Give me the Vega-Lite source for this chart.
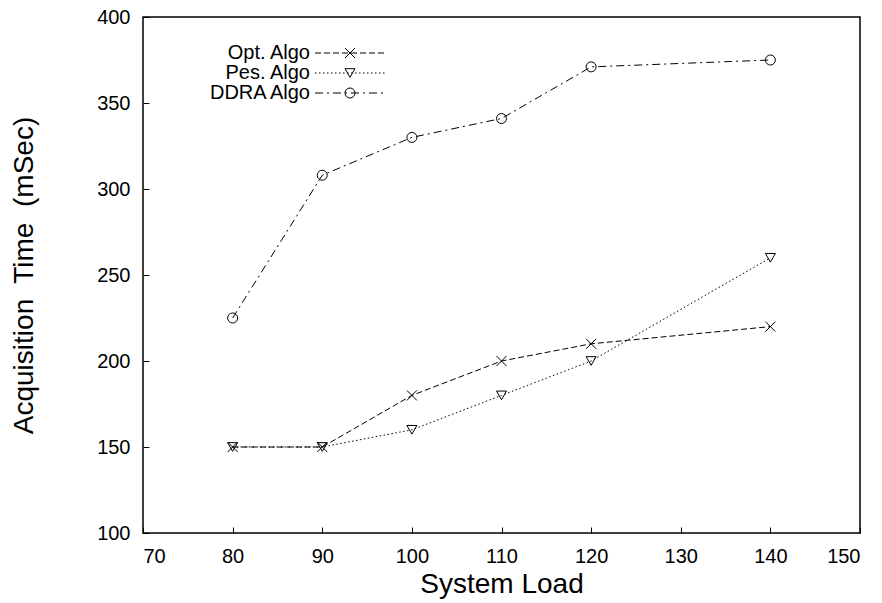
{
  "$schema": "https://vega.github.io/schema/vega-lite/v6.json",
  "width": 717,
  "height": 516,
  "autosize": {"type": "none"},
  "padding": {"left": 143, "top": 17, "right": 22, "bottom": 70},
  "background": "white",
  "config": {
    "font": "Liberation Sans",
    "view": {"stroke": "black", "strokeWidth": 1.5},
    "axis": {
      "domain": false,
      "grid": false,
      "tickColor": "black",
      "tickSize": -6,
      "tickWidth": 1,
      "labelColor": "black",
      "labelFontSize": 20,
      "labelFont": "Liberation Sans",
      "titleFont": "Liberation Sans",
      "titleFontSize": 28,
      "titleFontWeight": "normal",
      "titleColor": "black"
    },
    "legend": {
      "labelFont": "Liberation Sans",
      "labelFontSize": 20,
      "labelColor": "black"
    }
  },
  "data": {
    "values": [
      {"load": 80, "time": 150, "algo": "Opt. Algo", "marker": "cross"},
      {"load": 90, "time": 150, "algo": "Opt. Algo", "marker": "cross"},
      {"load": 100, "time": 180, "algo": "Opt. Algo", "marker": "cross"},
      {"load": 110, "time": 200, "algo": "Opt. Algo", "marker": "cross"},
      {"load": 120, "time": 210, "algo": "Opt. Algo", "marker": "cross"},
      {"load": 140, "time": 220, "algo": "Opt. Algo", "marker": "cross"},
      {"load": 80, "time": 150, "algo": "Pes. Algo", "marker": "triangle"},
      {"load": 90, "time": 150, "algo": "Pes. Algo", "marker": "triangle"},
      {"load": 100, "time": 160, "algo": "Pes. Algo", "marker": "triangle"},
      {"load": 110, "time": 180, "algo": "Pes. Algo", "marker": "triangle"},
      {"load": 120, "time": 200, "algo": "Pes. Algo", "marker": "triangle"},
      {"load": 140, "time": 260, "algo": "Pes. Algo", "marker": "triangle"},
      {"load": 80, "time": 225, "algo": "DDRA Algo", "marker": "circle"},
      {"load": 90, "time": 308, "algo": "DDRA Algo", "marker": "circle"},
      {"load": 100, "time": 330, "algo": "DDRA Algo", "marker": "circle"},
      {"load": 110, "time": 341, "algo": "DDRA Algo", "marker": "circle"},
      {"load": 120, "time": 371, "algo": "DDRA Algo", "marker": "circle"},
      {"load": 140, "time": 375, "algo": "DDRA Algo", "marker": "circle"}
    ]
  },
  "layer": [
    {
      "mark": {"type": "line", "color": "black", "strokeWidth": 1},
      "encoding": {
        "x": {
          "field": "load",
          "type": "quantitative",
          "scale": {"domain": [70, 150], "nice": false, "zero": false},
          "axis": {"values": [70, 80, 90, 100, 110, 120, 130, 140, 150], "title": "System Load", "labelPadding": 19, "titlePadding": 4}
        },
        "y": {
          "field": "time",
          "type": "quantitative",
          "scale": {"domain": [100, 400], "nice": false, "zero": false},
          "axis": {"values": [100, 150, 200, 250, 300, 350, 400], "title": "Acquisition\u00a0 Time\u00a0 (mSec)", "labelPadding": 19, "titlePadding": 58}
        },
        "strokeDash": {
          "field": "algo",
          "type": "nominal",
          "scale": {"domain": ["Opt. Algo", "Pes. Algo", "DDRA Algo"], "range": [[6, 3], [1.5, 2.5], [8, 4, 2, 4]]},
          "legend": {
            "title": null,
            "orient": "none",
            "legendX": 197,
            "legendY": 26,
            "symbolType": "M-7,0H7",
            "symbolSize": 100,
            "symbolStrokeColor": "black",
            "symbolStrokeWidth": 1,
            "labelAlign": "right",
            "labelOffset": -50,
            "rowPadding": 0
          }
        }
      }
    },
    {
      "mark": {"type": "point", "filled": false, "color": "black", "strokeWidth": 1, "size": 100, "opacity": 1},
      "encoding": {
        "x": {"field": "load", "type": "quantitative"},
        "y": {"field": "time", "type": "quantitative"},
        "shape": {
          "field": "marker",
          "type": "nominal",
          "scale": {"domain": ["cross", "triangle", "circle"], "range": ["M-1,-1L1,1M-1,1L1,-1", "triangle-down", "circle"]},
          "legend": {
            "title": null,
            "orient": "none",
            "legendX": 197,
            "legendY": 26,
            "symbolSize": 100,
            "symbolStrokeColor": "black",
            "symbolFillColor": "white",
            "symbolStrokeWidth": 1,
            "labelOpacity": 0,
            "rowPadding": 0
          }
        }
      }
    }
  ]
}
